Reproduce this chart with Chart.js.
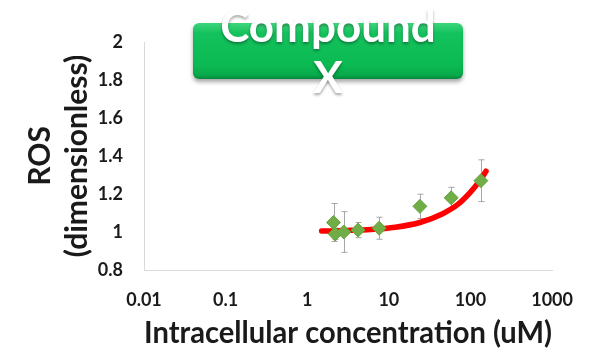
<!DOCTYPE html>
<html>
<head>
<meta charset="utf-8">
<script src="https://cdn.jsdelivr.net/npm/chart.js@4/dist/chart.umd.min.js"></script>
<style>
  body { margin: 0; background: #fff; }
  #wrap { position: relative; width: 592px; height: 348px; }
  #badge {
    position: absolute; left: 193px; top: 23px; width: 270px; height: 56px;
    border-radius: 6px;
    background: linear-gradient(#3fd67c 0%, #14c25d 18%, #0cba53 75%, #07a347 100%);
    box-shadow: 0 3px 4px rgba(0,0,0,0.35), inset 0 -2px 2px rgba(0,0,0,0.15);
  }
  #badgeText {
    position: absolute; left: 188px; top: 0px; width: 280px;
    text-align: center; color: #fff;
    font: bold 44px/51px Lato, sans-serif;
    text-shadow: 0 2px 3px rgba(0,0,0,0.35);
  }
</style>
</head>
<body>
<div id="wrap">
  <canvas id="rosChart" width="592" height="348"></canvas>
  <div id="badge"></div>
  <div id="badgeText">Compound<br>X</div>
</div>

<script>
  // measured points (concentration uM, ROS) with error bars
  const concValues = [2.1, 2.2, 2.8, 4.2, 7.6, 24, 58, 134];
  const rosValues  = [1.05, 0.99, 1.0, 1.01, 1.02, 1.135, 1.18, 1.27];
  const rosErrors  = [0.10, 0.03, 0.107, 0.04, 0.058, 0.064, 0.055, 0.11];

  // fitted curve
  const fitConc = [1.5, 3, 6, 12, 24, 45, 70, 100, 130, 155];
  const fitRos  = [1.005, 1.008, 1.013, 1.025, 1.05, 1.095, 1.145, 1.21, 1.27, 1.32];

  const xTicks = [0.01, 0.1, 1, 10, 100, 1000];
  const xTickLabels = ['0.01', '0.1', '1', '10', '100', '1000'];
  const yTicks = [0.8, 1, 1.2, 1.4, 1.6, 1.8, 2];
  const yTickLabels = ['0.8', '1', '1.2', '1.4', '1.6', '1.8', '2'];

  const tickFont = { family: 'Lato', weight: 'bold', size: 18 };
  const titleFont = { family: 'Lato', weight: 'bold', size: 30 };

  const errorBars = {
    id: 'errorBars',
    beforeDatasetsDraw(chart) {
      const ctx = chart.ctx;
      const xs = chart.scales.x, ys = chart.scales.y;
      ctx.save();
      ctx.strokeStyle = '#a6a6a6';
      ctx.lineWidth = 1;
      concValues.forEach((c, i) => {
        const px = Math.round(xs.getPixelForValue(c)) + 0.5;
        const top = ys.getPixelForValue(rosValues[i] + rosErrors[i]);
        const bot = ys.getPixelForValue(rosValues[i] - rosErrors[i]);
        ctx.beginPath();
        ctx.moveTo(px, top); ctx.lineTo(px, bot);
        ctx.moveTo(px - 3, top); ctx.lineTo(px + 3, top);
        ctx.moveTo(px - 3, bot); ctx.lineTo(px + 3, bot);
        ctx.stroke();
      });
      ctx.restore();
    }
  };

  new Chart(document.getElementById('rosChart'), {
    type: 'scatter',
    data: {
      datasets: [
        {
          label: 'ROS',
          data: concValues.map((c, i) => ({ x: c, y: rosValues[i] })),
          pointStyle: 'rectRot',
          pointRadius: 7,
          pointHoverRadius: 7,
          backgroundColor: '#70ad47',
          borderColor: '#6aa442',
          borderWidth: 1,
          order: 1
        },
        {
          label: 'fit',
          type: 'line',
          data: fitConc.map((c, i) => ({ x: c, y: fitRos[i] })),
          borderColor: '#ff0000',
          borderWidth: 5.5,
          borderCapStyle: 'round',
          pointRadius: 0,
          cubicInterpolationMode: 'monotone',
          fill: false,
          order: 2
        }
      ]
    },
    options: {
      responsive: false,
      animation: false,
      layout: { padding: { top: 42, right: 30, left: 0, bottom: 0 } },
      plugins: { legend: { display: false }, tooltip: { enabled: false } },
      scales: {
        x: {
          type: 'logarithmic',
          min: 0.01, max: 1000,
          afterBuildTicks: s => { s.ticks = xTicks.map(v => ({ value: v })); },
          afterFit: s => { s.height = 78; },
          grid: { display: false, drawTicks: false },
          border: { display: true, color: '#d9d9d9', width: 1 },
          ticks: {
            padding: 19, color: '#1a1a1a', font: tickFont, maxRotation: 0,
            callback: (v, i) => xTickLabels[i]
          },
          title: {
            display: true, text: 'Intracellular concentration (uM)',
            color: '#1a1a1a', font: { ...titleFont, lineHeight: 1 }, padding: 0
          }
        },
        y: {
          min: 0.8, max: 2,
          afterBuildTicks: s => { s.ticks = yTicks.map(v => ({ value: v })); },
          afterFit: s => { s.width = 144; },
          grid: { display: false, drawTicks: false },
          border: { display: true, color: '#d9d9d9', width: 1 },
          ticks: {
            padding: 21, color: '#1a1a1a', font: tickFont,
            callback: (v, i) => yTickLabels[i]
          },
          title: {
            display: true, text: ['ROS', '(dimensionless)'],
            color: '#1a1a1a', font: { ...titleFont, lineHeight: 1.233 },
            padding: { top: 21.5, bottom: 0 }
          }
        }
      }
    },
    plugins: [errorBars]
  });
</script>
</body>
</html>
